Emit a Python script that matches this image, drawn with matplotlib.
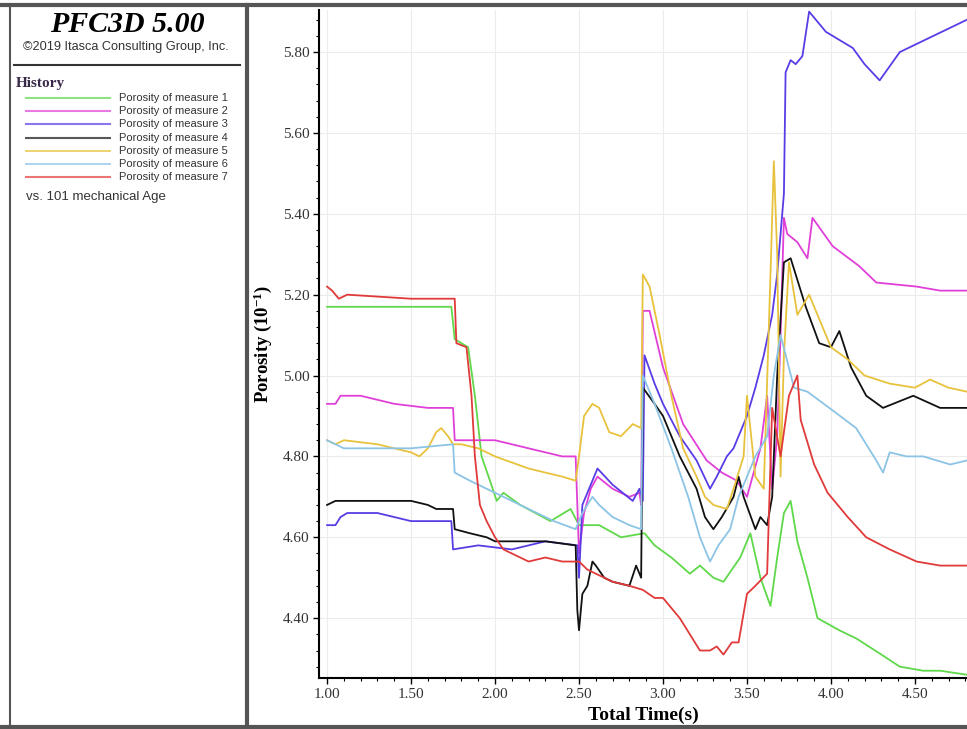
import matplotlib
matplotlib.use("Agg")
import matplotlib.pyplot as plt
from matplotlib.ticker import MultipleLocator, FormatStrFormatter

# Porosity histories (x = total time, y = porosity x 10^-1)
t1 = [1.00, 1.10, 1.40, 1.74, 1.76, 1.84, 1.88, 1.92, 1.97, 2.01, 2.05, 2.15, 2.33, 2.45, 2.50, 2.62, 2.75,
      2.89, 2.95, 3.05, 3.16, 3.22, 3.30, 3.36, 3.46, 3.52, 3.58, 3.64, 3.68, 3.72, 3.76, 3.80, 3.86, 3.92,
      4.05, 4.15, 4.30, 4.41, 4.55, 4.65, 4.81]
p1 = [5.17, 5.17, 5.17, 5.17, 5.09, 5.07, 4.95, 4.80, 4.74, 4.69, 4.71, 4.68, 4.64, 4.67, 4.63, 4.63, 4.60,
      4.61, 4.58, 4.55, 4.51, 4.53, 4.50, 4.49, 4.55, 4.61, 4.50, 4.43, 4.55, 4.66, 4.69, 4.59, 4.50, 4.40,
      4.37, 4.35, 4.31, 4.28, 4.27, 4.27, 4.26]

t2 = [1.00, 1.05, 1.08, 1.20, 1.40, 1.60, 1.75, 1.76, 1.90, 2.00, 2.20, 2.40, 2.48, 2.50, 2.53, 2.57, 2.61,
      2.70, 2.80, 2.86, 2.87, 2.88, 2.92, 3.00, 3.12, 3.26, 3.35, 3.44, 3.50, 3.58, 3.62, 3.65, 3.68, 3.70,
      3.72, 3.74, 3.80, 3.86, 3.89, 4.01, 4.17, 4.27, 4.51, 4.65, 4.81]
p2 = [4.93, 4.93, 4.95, 4.95, 4.93, 4.92, 4.92, 4.84, 4.84, 4.84, 4.82, 4.80, 4.80, 4.56, 4.66, 4.72, 4.75,
      4.72, 4.70, 4.71, 4.68, 5.16, 5.16, 5.02, 4.88, 4.79, 4.76, 4.74, 4.70, 4.82, 4.95, 4.72, 4.85, 5.10,
      5.39, 5.35, 5.33, 5.29, 5.39, 5.32, 5.27, 5.23, 5.22, 5.21, 5.21]

t3 = [1.00, 1.05, 1.08, 1.12, 1.30, 1.50, 1.74, 1.75, 1.90, 2.10, 2.30, 2.49, 2.50, 2.52, 2.56, 2.61, 2.70,
      2.76, 2.82, 2.86, 2.88, 2.89, 2.95, 3.00, 3.10, 3.20, 3.28, 3.32, 3.38, 3.42, 3.46, 3.50, 3.55, 3.60,
      3.65, 3.68, 3.70, 3.72, 3.73, 3.76, 3.79, 3.83, 3.87, 3.97, 4.13, 4.20, 4.29, 4.41, 4.61, 4.81]
p3 = [4.63, 4.63, 4.65, 4.66, 4.66, 4.64, 4.64, 4.57, 4.58, 4.57, 4.59, 4.58, 4.50, 4.68, 4.72, 4.77, 4.73,
      4.71, 4.69, 4.72, 4.69, 5.05, 4.98, 4.93, 4.85, 4.79, 4.72, 4.75, 4.80, 4.82, 4.86, 4.90, 4.97, 5.05,
      5.15, 5.25, 5.35, 5.45, 5.75, 5.78, 5.77, 5.79, 5.90, 5.85, 5.81, 5.77, 5.73, 5.80, 5.84, 5.88]

t4 = [1.00, 1.05, 1.30, 1.50, 1.60, 1.65, 1.75, 1.76, 1.85, 1.95, 2.00, 2.30, 2.48, 2.49, 2.50, 2.52, 2.55,
      2.58, 2.60, 2.65, 2.70, 2.80, 2.84, 2.87, 2.88, 2.95, 3.00, 3.10, 3.20, 3.25, 3.30, 3.35, 3.42, 3.45,
      3.48, 3.55, 3.58, 3.62, 3.65, 3.68, 3.72, 3.76, 3.85, 3.93, 4.00, 4.05, 4.12, 4.21, 4.31, 4.49, 4.65, 4.81]
p4 = [4.68, 4.69, 4.69, 4.69, 4.68, 4.67, 4.67, 4.62, 4.61, 4.60, 4.59, 4.59, 4.58, 4.42, 4.37, 4.46, 4.48,
      4.54, 4.53, 4.50, 4.49, 4.48, 4.53, 4.50, 4.97, 4.93, 4.90, 4.80, 4.72, 4.65, 4.62, 4.65, 4.70, 4.75,
      4.70, 4.62, 4.65, 4.63, 4.70, 5.00, 5.28, 5.29, 5.17, 5.08, 5.07, 5.11, 5.02, 4.95, 4.92, 4.95, 4.92, 4.92]

t5 = [1.00, 1.05, 1.10, 1.30, 1.50, 1.55, 1.60, 1.65, 1.68, 1.72, 1.75, 1.80, 1.90, 2.00, 2.20, 2.40, 2.48,
      2.50, 2.53, 2.58, 2.62, 2.68, 2.75, 2.82, 2.87, 2.88, 2.92, 2.98, 3.05, 3.12, 3.20, 3.25, 3.30, 3.38,
      3.42, 3.48, 3.50, 3.55, 3.60, 3.64, 3.66, 3.68, 3.70, 3.72, 3.75, 3.80, 3.87, 4.00, 4.10, 4.20, 4.35,
      4.50, 4.59, 4.70, 4.81]
p5 = [4.84, 4.83, 4.84, 4.83, 4.81, 4.80, 4.82, 4.86, 4.87, 4.85, 4.83, 4.83, 4.82, 4.80, 4.77, 4.75, 4.74,
      4.80, 4.90, 4.93, 4.92, 4.86, 4.85, 4.88, 4.87, 5.25, 5.22, 5.10, 4.95, 4.82, 4.75, 4.70, 4.68, 4.67,
      4.72, 4.80, 4.95, 4.75, 4.72, 5.25, 5.53, 5.30, 4.75, 5.05, 5.28, 5.15, 5.20, 5.07, 5.04, 5.00, 4.98,
      4.97, 4.99, 4.97, 4.96]

t6 = [1.00, 1.10, 1.30, 1.50, 1.75, 1.76, 1.85, 1.95, 2.05, 2.20, 2.35, 2.48, 2.52, 2.58, 2.62, 2.70, 2.80,
      2.87, 2.88, 2.95, 3.05, 3.15, 3.22, 3.28, 3.33, 3.40, 3.45, 3.50, 3.55, 3.62, 3.66, 3.70, 3.78, 3.86,
      3.99, 4.15, 4.27, 4.31, 4.35, 4.45, 4.55, 4.71, 4.81]
p6 = [4.84, 4.82, 4.82, 4.82, 4.83, 4.76, 4.74, 4.72, 4.70, 4.67, 4.64, 4.62, 4.66, 4.70, 4.68, 4.65, 4.63,
      4.62, 5.00, 4.93, 4.82, 4.70, 4.60, 4.54, 4.58, 4.62, 4.70, 4.75, 4.80, 4.85, 5.00, 5.10, 4.97, 4.96,
      4.92, 4.87, 4.79, 4.76, 4.81, 4.80, 4.80, 4.78, 4.79]

t7 = [1.00, 1.03, 1.07, 1.12, 1.50, 1.76, 1.77, 1.83, 1.86, 1.88, 1.91, 1.95, 2.00, 2.05, 2.10, 2.20, 2.30,
      2.40, 2.50, 2.55, 2.60, 2.70, 2.80, 2.88, 2.95, 3.00, 3.10, 3.16, 3.22, 3.28, 3.32, 3.36, 3.41, 3.45,
      3.50, 3.55, 3.62, 3.65, 3.70, 3.75, 3.80, 3.82, 3.90, 3.98, 4.10, 4.21, 4.35, 4.51, 4.65, 4.81]
p7 = [5.22, 5.21, 5.19, 5.20, 5.19, 5.19, 5.08, 5.07, 4.95, 4.80, 4.68, 4.64, 4.60, 4.57, 4.56, 4.54, 4.55,
      4.54, 4.54, 4.52, 4.51, 4.49, 4.48, 4.47, 4.45, 4.45, 4.40, 4.36, 4.32, 4.32, 4.33, 4.31, 4.34, 4.34,
      4.46, 4.48, 4.51, 4.92, 4.80, 4.95, 5.00, 4.89, 4.78, 4.71, 4.65, 4.60, 4.57, 4.54, 4.53, 4.53]

times = [t1, t2, t3, t4, t5, t6, t7]
values = [p1, p2, p3, p4, p5, p6, p7]
labels = ["Porosity of measure %d" % i for i in range(1, 8)]
colors = ["#5fd84a", "#e040d8", "#5a3ce6", "#111111", "#e8c23c", "#8cc4e6", "#e03a3a"]

plt.rcParams["font.family"] = ["Liberation Serif", "DejaVu Serif"]

fig = plt.figure(figsize=(9.67, 7.29), dpi=100)

# frame / side panel drawn in pixel coordinates
panel = fig.add_axes([0, 0, 1, 1])
panel.set_xlim(0, 967)
panel.set_ylim(729, 0)
panel.axis("off")
panel.plot([0, 967], [5, 5], color="#555555", lw=3)
panel.plot([0, 967], [727, 727], color="#555555", lw=3)
panel.plot([10, 10], [5, 729], color="#555555", lw=1.5)
panel.plot([247, 247], [5, 729], color="#555555", lw=3)
panel.text(127, 24, "PFC3D 5.00", ha="center", va="center", fontsize=21.5,
           fontweight="bold", fontstyle="italic")
panel.text(126, 47, "\u00a92019 Itasca Consulting Group, Inc.", ha="center", va="center",
           fontsize=9.2, family="Liberation Sans", color="#333333")
panel.plot([14, 240], [65, 65], color="#333333", lw=1.5)
panel.text(16, 83, "History", ha="left", va="center", fontsize=11, fontweight="bold",
           color="#3a2a4a")
for i, (lab, c) in enumerate(zip(labels, colors)):
    yy = 98 + i * 13.2
    panel.plot([26, 110], [yy, yy], color=c, lw=1.5, alpha=0.7)
    panel.text(119, yy, lab, ha="left", va="center", fontsize=8,
               family="Liberation Sans", color="#333333")
panel.text(26, 197, "vs. 101 mechanical Age", ha="left", va="center", fontsize=9.5,
           family="Liberation Sans", color="#333333")

ax = fig.add_axes([319 / 967, 1 - 678 / 729, 1 - 319 / 967, (678 - 10) / 729])
for t, p, c in zip(times, values, colors):
    ax.plot(t, p, color=c, lw=1.3)

ax.set_xlim(0.952, 4.81)
ax.set_ylim(4.252, 5.904)
ax.xaxis.set_major_locator(MultipleLocator(0.5))
ax.xaxis.set_minor_locator(MultipleLocator(0.1))
ax.yaxis.set_major_locator(MultipleLocator(0.2))
ax.yaxis.set_minor_locator(MultipleLocator(0.04))
ax.xaxis.set_major_formatter(FormatStrFormatter("%.2f"))
ax.yaxis.set_major_formatter(FormatStrFormatter("%.2f"))
ax.tick_params(which="major", length=4, width=1, labelsize=11, labelcolor="#333333")
ax.tick_params(axis="y", which="major", pad=3)
ax.tick_params(which="minor", length=2.5, width=0.8)
ax.spines["top"].set_visible(False)
ax.spines["right"].set_visible(False)
ax.spines["left"].set_linewidth(1.5)
ax.spines["bottom"].set_linewidth(1.5)
ax.grid(True, which="major", color="#ececec", lw=0.8)
ax.set_axisbelow(True)
ax.set_xlabel("Total Time(s)", fontsize=14, fontweight="bold", labelpad=4)
ax.set_ylabel(r"Porosity ($\mathregular{10^{-1}}$)", fontsize=13.5, fontweight="bold", labelpad=6)

fig.savefig("out.png", dpi=100)
